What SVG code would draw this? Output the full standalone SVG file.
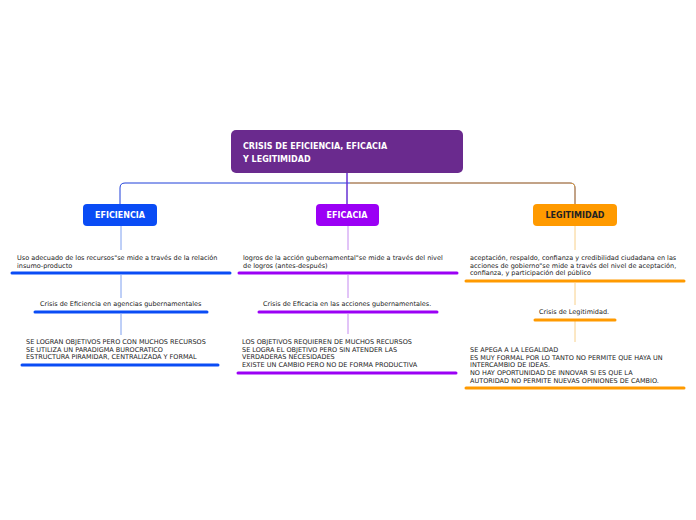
<svg xmlns="http://www.w3.org/2000/svg" width="696" height="520" viewBox="0 0 696 520">
<style>
text{font-family:"DejaVu Sans",Verdana,sans-serif;font-size:6.5px;fill:#222}
.h{font-weight:bold;fill:#fff;font-size:8px}
.c{fill:none;stroke-width:1}
.u{stroke-width:3;stroke-linecap:round}
</style>
<rect width="696" height="520" fill="#fff"/>
<g id="connectors" class="c">
<path d="M347 173 V183 M120 204 V188 Q120 183 125 183 H570 Q575 183 575 188 V204 M347 183 V204" stroke="#1f3fd9" fill="none"/>
<path d="M347 173 V204" stroke="#8a2ad0"/>
<path d="M350 183 H570 Q575 183 575 188 V204" stroke="#f5a623" fill="none"/>
<path d="M121 226 V250 M121 275 V298 M121 314 V335" stroke="#7ea0f0"/>
<path d="M348 226 V250 M348 275 V298 M348 314 V334" stroke="#c58af0"/>
<path d="M575 226 V250 M575 283 V305 M575 321 V342" stroke="#f8d08a"/>
</g>
<g id="root"><rect x="231" y="130" width="232" height="43" rx="5" fill="#6a2a8e"/>
<text class="h" x="243" y="149" font-size="10.5">CRISIS DE EFICIENCIA, EFICACIA</text>
<text class="h" x="243" y="162" font-size="10.5">Y LEGITIMIDAD</text></g>
<g id="eficiencia"><rect x="83" y="204" width="74" height="22" rx="4" fill="#0a4cf5"/><text class="h" x="120" y="218" text-anchor="middle">EFICIENCIA</text></g>
<g id="eficacia"><rect x="316" y="204" width="63" height="22" rx="4" fill="#9b00f5"/><text class="h" x="347" y="218" text-anchor="middle">EFICACIA</text></g>
<g id="legitimidad"><rect x="533" y="204" width="84" height="22" rx="4" fill="#ff9a00"/><text class="h" x="575" y="218" text-anchor="middle" style="fill:#222">LEGITIMIDAD</text></g>
<g id="e1"><text x="17" y="260">Uso adecuado de los recursos"se mide a través de la relación</text><text x="17" y="268">insumo-producto</text><line class="u" x1="12" y1="273" x2="230" y2="273" stroke="#0a4cf5"/></g>
<g id="e2"><text x="40" y="306">Crisis de Eficiencia en agencias gubernamentales</text><line class="u" x1="35" y1="312" x2="207" y2="312" stroke="#0a4cf5"/></g>
<g id="e3"><text x="26" y="344">SE LOGRAN OBJETIVOS PERO CON MUCHOS RECURSOS</text><text x="26" y="352">SE UTILIZA UN PARADIGMA BUROCRATICO</text><text x="26" y="359">ESTRUCTURA PIRAMIDAR, CENTRALIZADA Y FORMAL</text><line class="u" x1="22" y1="365" x2="218" y2="365" stroke="#0a4cf5"/></g>
<g id="a1"><text x="243" y="260">logros de la acción gubernamental"se mide a través del nivel</text><text x="243" y="268">de logros (antes-después)</text><line class="u" x1="239" y1="273" x2="457" y2="273" stroke="#9b00f5"/></g>
<g id="a2"><text x="263" y="306">Crisis de Eficacia en las acciones gubernamentales.</text><line class="u" x1="259" y1="312" x2="437" y2="312" stroke="#9b00f5"/></g>
<g id="a3"><text x="242" y="344">LOS OBJETIVOS REQUIEREN DE MUCHOS RECURSOS</text><text x="242" y="352">SE LOGRA EL OBJETIVO PERO SIN ATENDER LAS</text><text x="242" y="359">VERDADERAS NECESIDADES</text><text x="242" y="367">EXISTE UN CAMBIO PERO NO DE FORMA PRODUCTIVA</text><line class="u" x1="238" y1="373" x2="456" y2="373" stroke="#9b00f5"/></g>
<g id="l1"><text x="470" y="260">aceptación, respaldo, confianza y credibilidad ciudadana en las</text><text x="470" y="268">acciones de gobierno"se mide a través del nivel de aceptación,</text><text x="470" y="275">confianza, y participación del público</text><line class="u" x1="466" y1="281" x2="684" y2="281" stroke="#ff9a00"/></g>
<g id="l2"><text x="539" y="314">Crisis de Legitimidad.</text><line class="u" x1="535" y1="320" x2="615" y2="320" stroke="#ff9a00"/></g>
<g id="l3"><text x="470" y="352">SE APEGA A LA LEGALIDAD</text><text x="470" y="360">ES MUY FORMAL POR LO TANTO NO PERMITE QUE HAYA UN</text><text x="470" y="367">INTERCAMBIO DE IDEAS.</text><text x="470" y="375">NO HAY OPORTUNIDAD DE INNOVAR SI ES QUE LA</text><text x="470" y="383">AUTORIDAD NO PERMITE NUEVAS OPINIONES DE CAMBIO.</text><line class="u" x1="466" y1="388" x2="684" y2="388" stroke="#ff9a00"/></g>
</svg>
